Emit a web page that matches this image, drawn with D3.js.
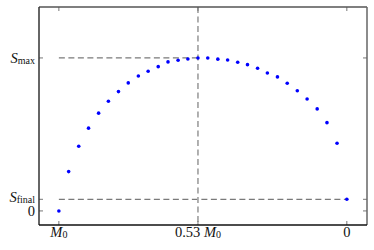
<!DOCTYPE html>
<html>
<head>
<meta charset="utf-8">
<script src="https://cdn.jsdelivr.net/npm/d3@7"></script>
<style>
  body { margin: 0; background: #fff; }
  svg text { font-family: "Liberation Serif", "DejaVu Serif", serif; fill: #111; }
</style>
</head>
<body>
<svg width="374" height="250"></svg>
<script>
// remaining mass fraction M/M0 (30 evenly spaced samples, M0 -> 0)
const mass = [1.000, 0.966, 0.931, 0.897, 0.862, 0.828, 0.793, 0.759, 0.724, 0.690,
  0.655, 0.621, 0.586, 0.552, 0.517, 0.483, 0.448, 0.414, 0.379, 0.345,
  0.310, 0.276, 0.241, 0.207, 0.172, 0.138, 0.103, 0.069, 0.034, 0.000];
// S in units of S_max
const entropy = [0.000, 0.257, 0.423, 0.541, 0.639, 0.717, 0.780, 0.837, 0.882, 0.913,
  0.943, 0.974, 0.985, 0.993, 1.000, 1.000, 0.992, 0.987, 0.972, 0.956,
  0.933, 0.902, 0.876, 0.835, 0.786, 0.732, 0.667, 0.577, 0.442, 0.076];

const peakMass = 0.517, sMax = 1.0, sFinal = 0.076;
const xTicks = [1, peakMass, 0];
const xTickLabels = [["M", "0"], ["0.53 M", "0"], ["0", ""]];
const yTicks = [0, sFinal, sMax];
const yTickLabels = [["0", ""], ["S", "final"], ["S", "max"]];

const svg = d3.select("svg"),
  margin = { top: 7, right: 7, bottom: 25, left: 39 },
  width = +svg.attr("width") - margin.left - margin.right,
  height = +svg.attr("height") - margin.top - margin.bottom;

const x = d3.scaleLinear().domain([1.069, -0.070]).range([0, width]),
  y = d3.scaleLinear().domain([-0.092, 1.333]).range([height, 0]);

const g = svg.append("g").attr("transform", `translate(${margin.left},${margin.top})`);

// guide lines
g.append("line")
  .attr("x1", x(1)).attr("x2", x(peakMass))
  .attr("y1", y(sMax)).attr("y2", y(sMax))
  .attr("stroke", "#7a7a7a").attr("stroke-width", 1.2).attr("stroke-dasharray", "6,3.5");
g.append("line")
  .attr("x1", x(1)).attr("x2", x(0))
  .attr("y1", y(sFinal)).attr("y2", y(sFinal))
  .attr("stroke", "#7a7a7a").attr("stroke-width", 1.2).attr("stroke-dasharray", "6,3.5");
g.append("line")
  .attr("x1", x(peakMass)).attr("x2", x(peakMass))
  .attr("y1", 0).attr("y2", height)
  .attr("stroke", "#a8a8a8").attr("stroke-width", 1.8).attr("stroke-dasharray", "6,3.5");

// points
g.append("g")
  .selectAll("circle")
  .data(mass)
  .enter()
  .append("circle")
  .attr("cx", (d) => x(d))
  .attr("cy", (d, i) => y(entropy[i]))
  .attr("r", 1.8)
  .attr("fill", "#0000ff");

// ticks, inward on all four sides
const tickColor = "#777", tl = 4;
xTicks.forEach((t) => {
  g.append("line").attr("x1", x(t)).attr("x2", x(t)).attr("y1", height).attr("y2", height - tl)
    .attr("stroke", tickColor);
  g.append("line").attr("x1", x(t)).attr("x2", x(t)).attr("y1", 0).attr("y2", tl)
    .attr("stroke", tickColor);
});
yTicks.forEach((t) => {
  g.append("line").attr("x1", 0).attr("x2", tl).attr("y1", y(t)).attr("y2", y(t))
    .attr("stroke", tickColor);
  g.append("line").attr("x1", width).attr("x2", width - tl).attr("y1", y(t)).attr("y2", y(t))
    .attr("stroke", tickColor);
});

// spines
const spine = (x1, y1, x2, y2, c) =>
  g.append("line").attr("x1", x1).attr("y1", y1).attr("x2", x2).attr("y2", y2)
    .attr("stroke", c).attr("stroke-width", 1.5);
spine(0, 0, width, 0, "#555");
spine(width, 0, width, height, "#666");
spine(0, 0, 0, height, "#333");
spine(0, height, width, height, "#111");

// tick labels
function label(sel, parts) {
  const main = parts[0];
  if (main.startsWith("0.53")) {
    sel.append("tspan").text("0.53 ");
    sel.append("tspan").attr("font-style", "italic").text("M");
  } else if (main === "0") {
    sel.append("tspan").text("0");
  } else {
    sel.append("tspan").attr("font-style", "italic").text(main);
  }
  if (parts[1]) {
    sel.append("tspan").attr("font-size", 10).attr("dy", 1).text(parts[1]);
  }
}

xTicks.forEach((t, i) => {
  const txt = g.append("text")
    .attr("x", x(t)).attr("y", height + 12)
    .attr("text-anchor", "middle")
    .attr("font-size", 14.5);
  label(txt, xTickLabels[i]);
});

const yShift = [5.5, 3, 5];
yTicks.forEach((t, i) => {
  const txt = g.append("text")
    .attr("x", -4).attr("y", y(t) + yShift[i])
    .attr("text-anchor", "end")
    .attr("font-size", 14.5);
  label(txt, yTickLabels[i]);
});
</script>
</body>
</html>
